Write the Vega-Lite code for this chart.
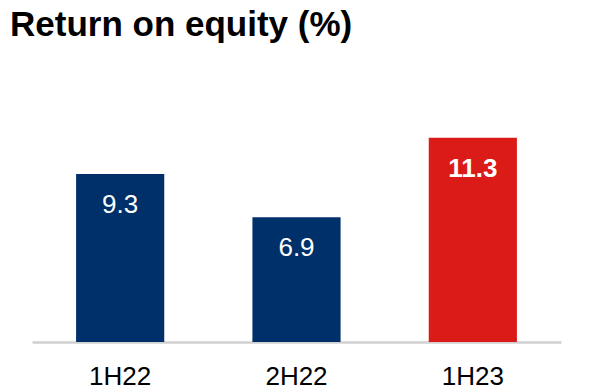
{
  "$schema": "https://vega.github.io/schema/vega-lite/v6.json",
  "width": 529,
  "height": 253,
  "autosize": {"type": "none"},
  "padding": {"left": 32, "top": 89, "right": 29, "bottom": 49},
  "background": "white",
  "title": {
    "text": "Return on equity (%)",
    "anchor": "start",
    "frame": "group",
    "font": "Liberation Sans",
    "fontSize": 35,
    "fontWeight": "bold",
    "color": "#000000",
    "dx": -22,
    "offset": 46
  },
  "data": {
    "values": [
      {"period": "1H22", "roe": 9.3, "type": "past"},
      {"period": "2H22", "roe": 6.9, "type": "past"},
      {"period": "1H23", "roe": 11.3, "type": "current"}
    ]
  },
  "encoding": {
    "x": {
      "field": "period",
      "type": "nominal",
      "sort": null,
      "scale": {"paddingInner": 0.5, "paddingOuter": 0.25},
      "axis": {
        "title": null,
        "labelAngle": 0,
        "ticks": false,
        "labelPadding": 21,
        "labelFont": "Liberation Sans",
        "labelFontSize": 26,
        "labelColor": "#000000",
        "domainColor": "#D0D0D0",
        "domainWidth": 2.5,
        "grid": false
      }
    },
    "y": {
      "field": "roe",
      "type": "quantitative",
      "scale": {"domain": [0, 14]},
      "axis": null
    }
  },
  "layer": [
    {
      "mark": {"type": "bar"},
      "encoding": {
        "color": {
          "field": "type",
          "type": "nominal",
          "scale": {"domain": ["past", "current"], "range": ["#00306A", "#DA1B17"]},
          "legend": null
        }
      }
    },
    {
      "transform": [{"filter": "datum.type === 'past'"}],
      "mark": {"type": "text", "color": "white", "font": "Liberation Sans", "fontSize": 26, "baseline": "middle", "dy": 31},
      "encoding": {"text": {"field": "roe", "type": "quantitative", "format": ".1f"}}
    },
    {
      "transform": [{"filter": "datum.type === 'current'"}],
      "mark": {"type": "text", "color": "white", "font": "Liberation Sans", "fontSize": 26, "fontWeight": "bold", "baseline": "middle", "dy": 31},
      "encoding": {"text": {"field": "roe", "type": "quantitative", "format": ".1f"}}
    }
  ],
  "config": {"view": {"stroke": null}}
}
